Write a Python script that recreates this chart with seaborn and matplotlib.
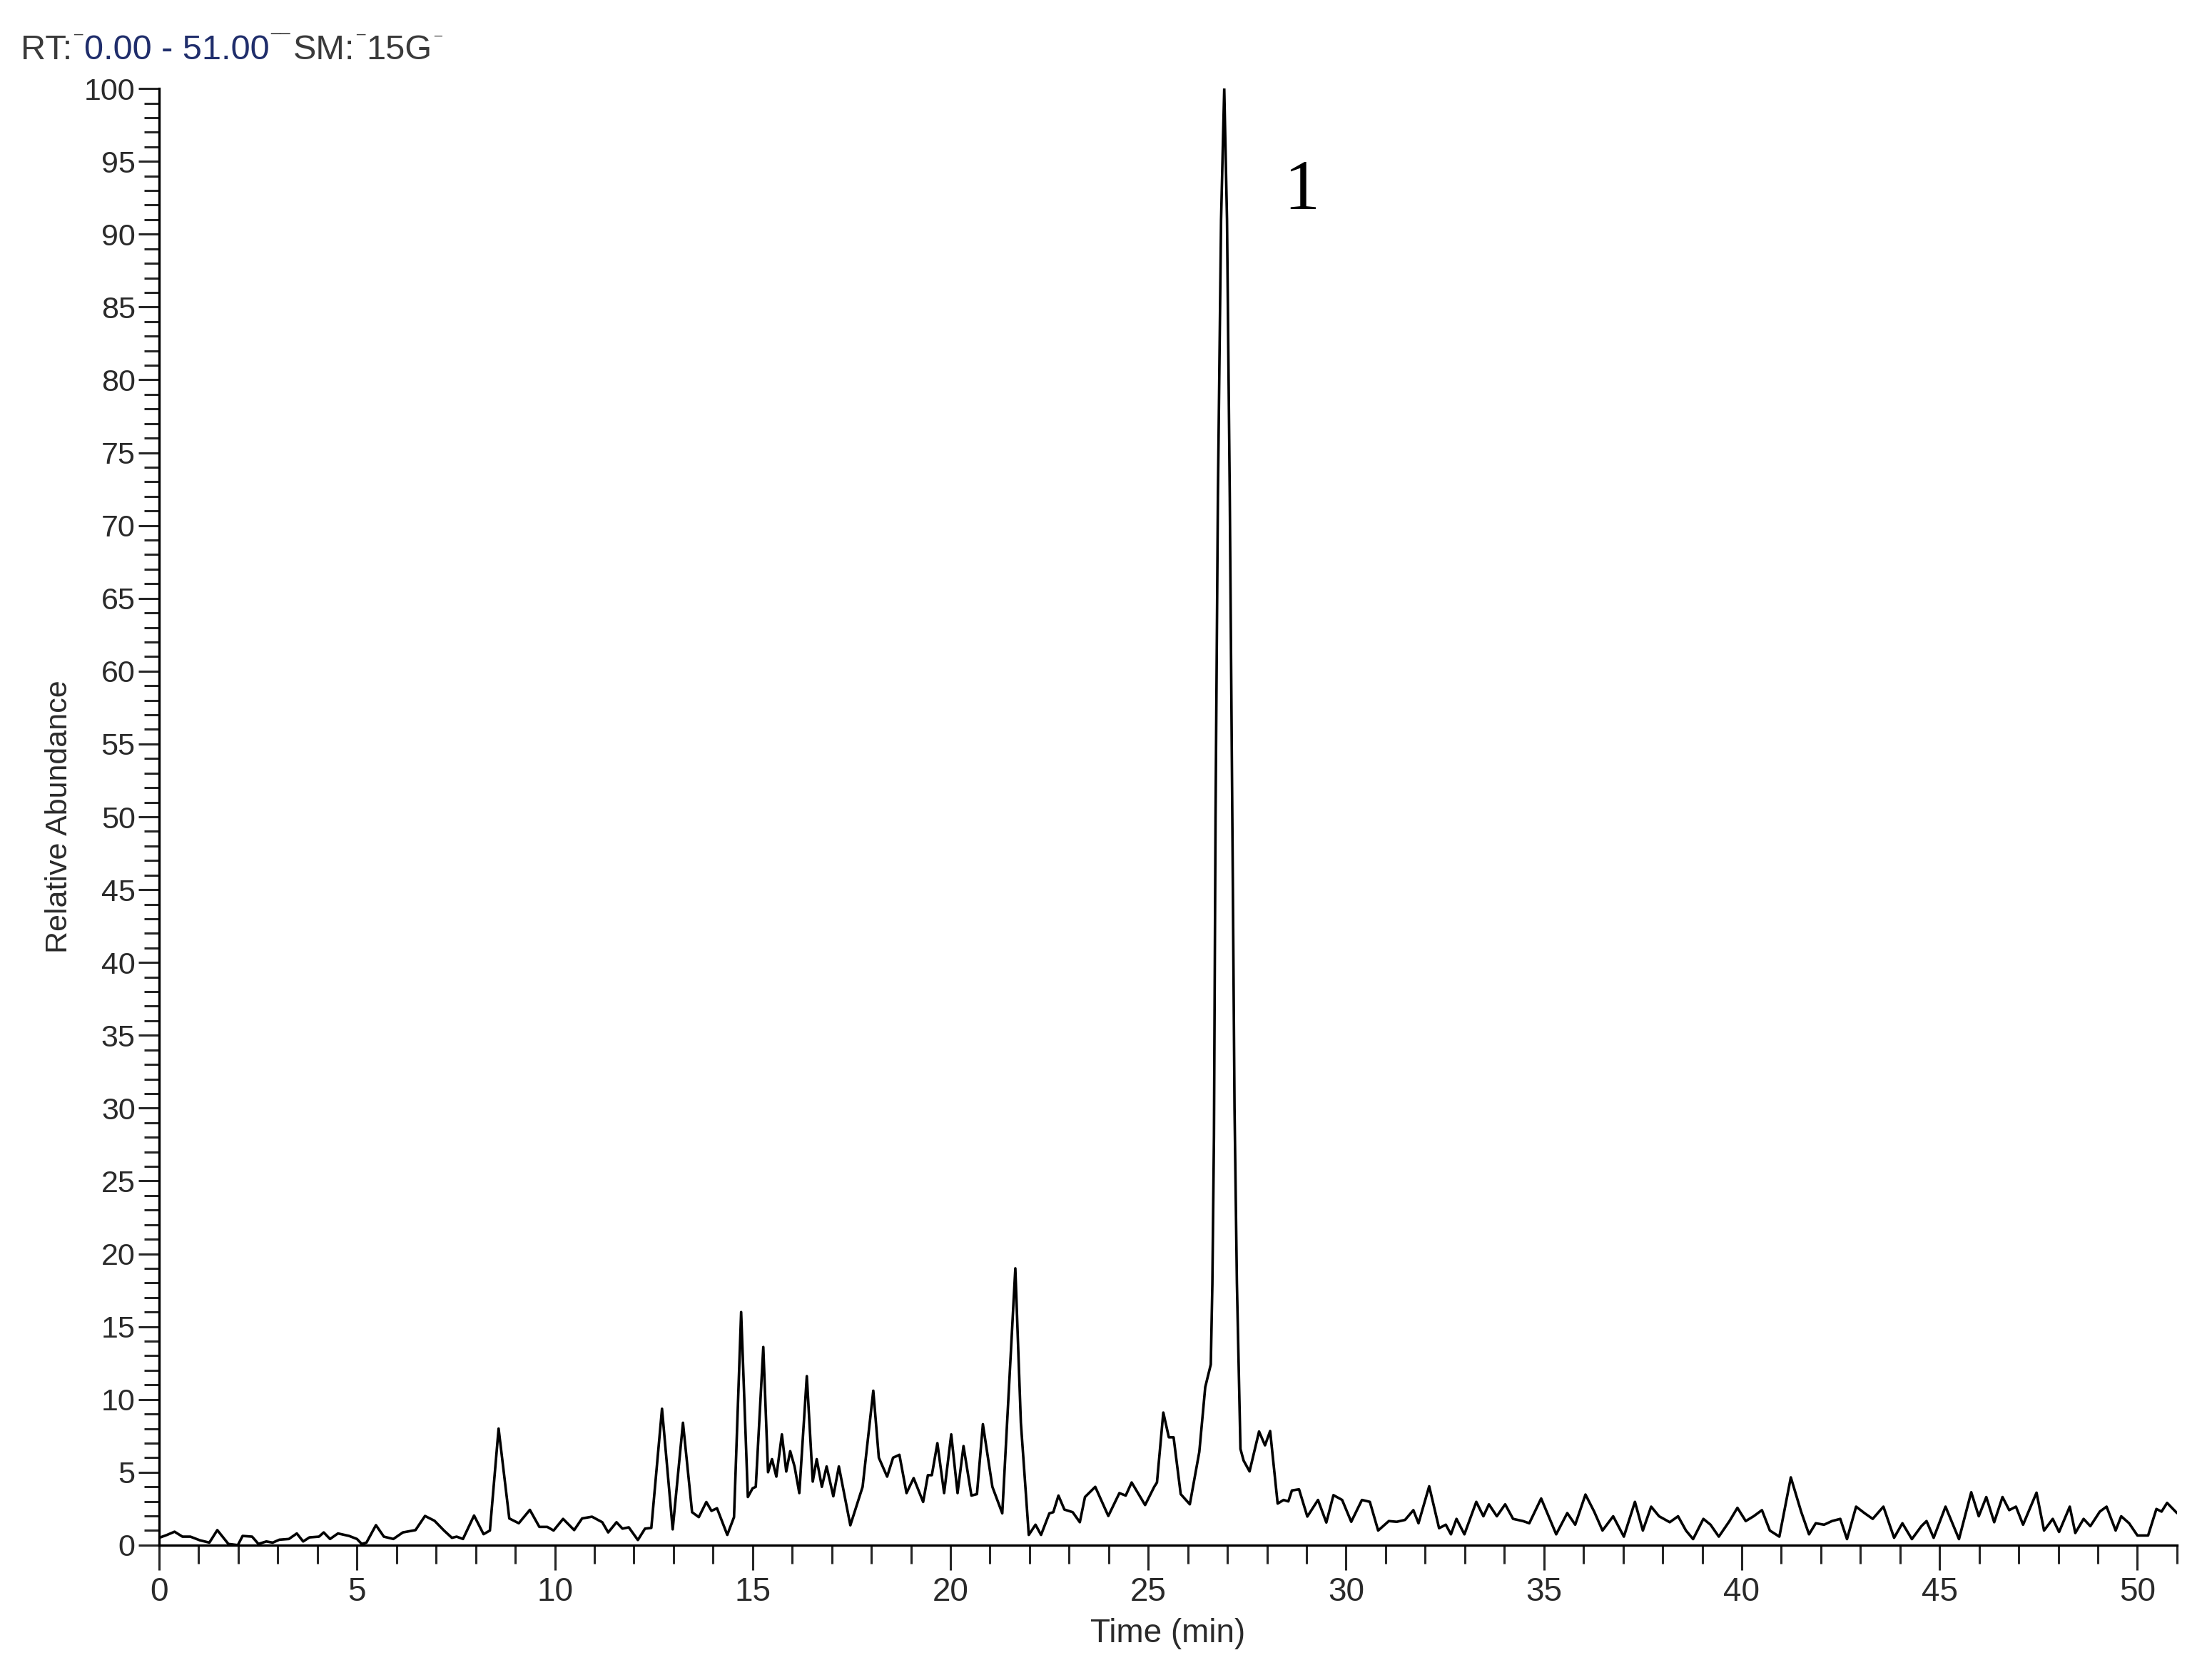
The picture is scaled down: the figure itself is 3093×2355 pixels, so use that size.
import numpy as np
import pandas as pd
import matplotlib
matplotlib.use("Agg")
import matplotlib.pyplot as plt
import seaborn as sns
from matplotlib.ticker import MultipleLocator

# retention time (min)
time_min = [
    0.00, 0.20, 0.39, 0.59, 0.79, 1.03, 1.27, 1.47, 1.75, 1.99,
    2.11, 2.35, 2.51, 2.71, 2.87, 3.04, 3.28, 3.48, 3.64, 3.80,
    4.04, 4.16, 4.32, 4.52, 4.80, 5.00, 5.12, 5.24, 5.48, 5.68,
    5.92, 6.16, 6.48, 6.72, 6.96, 7.20, 7.40, 7.52, 7.68, 7.96,
    8.20, 8.36, 8.58, 8.85, 9.09, 9.37, 9.61, 9.81, 9.97, 10.21,
    10.49, 10.69, 10.94, 11.20, 11.35, 11.56, 11.71, 11.87, 12.10, 12.28,
    12.44, 12.71, 12.98, 13.24, 13.47, 13.64, 13.83, 13.96, 14.10, 14.36,
    14.53, 14.71, 14.88, 15.00, 15.08, 15.27, 15.39, 15.49, 15.60, 15.74,
    15.85, 15.95, 16.06, 16.18, 16.37, 16.52, 16.62, 16.75, 16.87, 17.04,
    17.18, 17.47, 17.78, 18.05, 18.19, 18.40, 18.55, 18.71, 18.89, 19.07,
    19.31, 19.43, 19.53, 19.67, 19.84, 20.02, 20.18, 20.33, 20.53, 20.67,
    20.82, 21.06, 21.31, 21.64, 21.78, 21.98, 22.15, 22.29, 22.50, 22.60,
    22.73, 22.88, 23.09, 23.27, 23.40, 23.66, 23.99, 24.27, 24.43, 24.58,
    24.92, 25.15, 25.22, 25.38, 25.52, 25.64, 25.82, 26.05, 26.29, 26.44,
    26.58, 26.62, 26.66, 26.70, 26.76, 26.84, 26.92, 26.99, 27.06, 27.13,
    27.18, 27.24, 27.33, 27.41, 27.56, 27.80, 27.95, 28.08, 28.27, 28.42,
    28.54, 28.63, 28.81, 29.02, 29.29, 29.50, 29.68, 29.90, 30.13, 30.40,
    30.60, 30.81, 31.08, 31.28, 31.49, 31.70, 31.83, 32.10, 32.35, 32.52,
    32.65, 32.79, 32.99, 33.29, 33.47, 33.61, 33.81, 34.02, 34.22, 34.47,
    34.63, 34.93, 35.31, 35.59, 35.79, 36.05, 36.27, 36.48, 36.75, 37.02,
    37.30, 37.50, 37.71, 37.91, 38.18, 38.39, 38.59, 38.77, 39.03, 39.21,
    39.42, 39.69, 39.89, 40.10, 40.30, 40.51, 40.71, 40.95, 41.24, 41.50,
    41.70, 41.87, 42.08, 42.28, 42.49, 42.66, 42.89, 43.10, 43.31, 43.58,
    43.85, 44.06, 44.30, 44.54, 44.67, 44.85, 45.15, 45.49, 45.80, 45.99,
    46.18, 46.38, 46.59, 46.76, 46.93, 47.11, 47.45, 47.64, 47.86, 48.02,
    48.29, 48.43, 48.64, 48.81, 49.05, 49.22, 49.45, 49.59, 49.79, 50.00,
    50.27, 50.48, 50.61, 50.75, 51.00,
]

# relative abundance (%) at those times
rel_abundance = [
    0.50, 0.70, 0.92, 0.58, 0.58, 0.33, 0.17, 1.03, 0.08, 0.00,
    0.63, 0.58, 0.08, 0.25, 0.17, 0.37, 0.42, 0.80, 0.25, 0.53,
    0.58, 0.87, 0.42, 0.80, 0.63, 0.42, 0.08, 0.17, 1.37, 0.58,
    0.42, 0.87, 1.03, 2.00, 1.67, 1.00, 0.50, 0.58, 0.42, 2.03,
    0.75, 1.00, 8.00, 1.83, 1.50, 2.42, 1.25, 1.25, 1.00, 1.80,
    1.03, 1.83, 1.95, 1.57, 0.87, 1.57, 1.13, 1.22, 0.35, 1.13,
    1.18, 9.36, 1.08, 8.40, 2.26, 1.92, 2.96, 2.35, 2.53, 0.70,
    1.92, 16.0, 3.30, 3.90, 4.00, 13.6, 5.00, 5.90, 4.70, 7.60,
    5.05, 6.45, 5.40, 3.57, 11.6, 4.36, 5.90, 4.00, 5.40, 3.35,
    5.40, 1.36, 4.00, 10.6, 6.00, 4.70, 6.00, 6.20, 3.57, 4.60,
    2.96, 4.80, 4.80, 7.00, 3.57, 7.60, 3.57, 6.80, 3.40, 3.50,
    8.30, 4.00, 2.18, 19.0, 8.40, 0.70, 1.40, 0.70, 2.18, 2.26,
    3.40, 2.44, 2.26, 1.57, 3.30, 4.00, 2.00, 3.57, 3.40, 4.30,
    2.75, 4.00, 4.30, 9.10, 7.40, 7.40, 3.50, 2.80, 6.40, 10.85,
    12.4, 17.9, 28.0, 50.0, 72.0, 91.0, 100.0, 91.0, 72.0, 48.0,
    30.0, 18.0, 6.60, 5.80, 5.06, 7.80, 6.85, 7.83, 2.85, 3.10,
    3.00, 3.75, 3.83, 1.96, 3.10, 1.55, 3.43, 3.10, 1.60, 3.10,
    2.97, 1.00, 1.65, 1.60, 1.73, 2.40, 1.50, 4.04, 1.16, 1.40,
    0.74, 1.80, 0.74, 2.97, 1.98, 2.80, 1.98, 2.80, 1.80, 1.65,
    1.50, 3.20, 0.74, 2.20, 1.40, 3.47, 2.30, 1.00, 1.98, 0.58,
    2.97, 1.00, 2.64, 1.98, 1.57, 1.98, 1.00, 0.41, 1.80, 1.40,
    0.58, 1.65, 2.56, 1.65, 1.98, 2.40, 1.00, 0.58, 4.65, 2.30,
    0.74, 1.50, 1.40, 1.65, 1.80, 0.41, 2.64, 2.20, 1.80, 2.64,
    0.50, 1.50, 0.41, 1.30, 1.65, 0.50, 2.64, 0.41, 3.63, 1.98,
    3.30, 1.57, 3.30, 2.40, 2.64, 1.40, 3.60, 1.00, 1.80, 0.90,
    2.64, 0.83, 1.80, 1.30, 2.30, 2.64, 1.00, 1.98, 1.50, 0.66,
    0.66, 2.48, 2.30, 2.90, 2.20,
]

df = pd.DataFrame({"Time (min)": time_min, "Relative Abundance": rel_abundance})

sns.set_style("white")
plt.rcParams["font.family"] = ["Liberation Sans", "DejaVu Sans"]

W, H = 3093, 2355
fig = plt.figure(figsize=(W / 100, H / 100), dpi=100)
ax = fig.add_axes([0.0721, 0.0803, 0.9143, 0.867])

sns.lineplot(data=df, x="Time (min)", y="Relative Abundance", ax=ax,
             color="black", linewidth=2.6, sort=False, estimator=None)

ax.set_xlim(0, 51)
ax.set_ylim(0, 100)
ax.xaxis.set_major_locator(MultipleLocator(5))
ax.xaxis.set_minor_locator(MultipleLocator(1))
ax.yaxis.set_major_locator(MultipleLocator(5))
ax.yaxis.set_minor_locator(MultipleLocator(1))

sns.despine(ax=ax)
for side in ["left", "bottom"]:
    ax.spines[side].set_linewidth(2.4)
    ax.spines[side].set_color("black")

txt_col = "#2a2a2a"
ax.tick_params(axis="y", which="major", direction="out", length=21, width=2.2,
               pad=3, labelsize=31, labelcolor=txt_col, left=True)
ax.tick_params(axis="y", which="minor", direction="out", length=15, width=2.2, left=True)
ax.tick_params(axis="x", which="major", direction="out", length=25, width=2.2,
               pad=7, labelsize=33, labelcolor=txt_col, bottom=True)
ax.tick_params(axis="x", which="minor", direction="out", length=19, width=2.2, bottom=True)

ax.set_xlabel("Time (min)", fontsize=33, color=txt_col, labelpad=10)
ax.set_ylabel("Relative Abundance", fontsize=31, color=txt_col, labelpad=11)

# peak label
ax.text(28.87, 92.9, "1", ha="center", va="center", fontsize=72,
        family=["Liberation Serif", "DejaVu Serif"], color="black")

# header line as printed by the instrument software
renderer = fig.canvas.get_renderer()
gray, navy = "#3a3a3a", "#1f2d6b"
base_y = 1 - 83 / H
pieces = [
    ("RT:", gray, 35, 0, 2),
    ("\u00af", gray, 16, 18, 2),
    ("0.00 - 51.00", navy, 35, 0, 2),
    ("\u00af\u00af", gray, 18, 17, 4),
    ("SM:", gray, 35, 0, 2),
    ("\u00af", gray, 16, 18, 2),
    ("15G", gray, 35, 0, 2),
    ("\u00af", gray, 14, 19, 0),
]
x_px = 29
for s, c, fs, raise_px, gap_px in pieces:
    t = fig.text(x_px / W, base_y + raise_px / H, s, fontsize=fs, color=c,
                 ha="left", va="baseline")
    bb = t.get_window_extent(renderer=renderer)
    x_px = bb.x1 + gap_px

fig.savefig("out.png", dpi=100, facecolor="white")
